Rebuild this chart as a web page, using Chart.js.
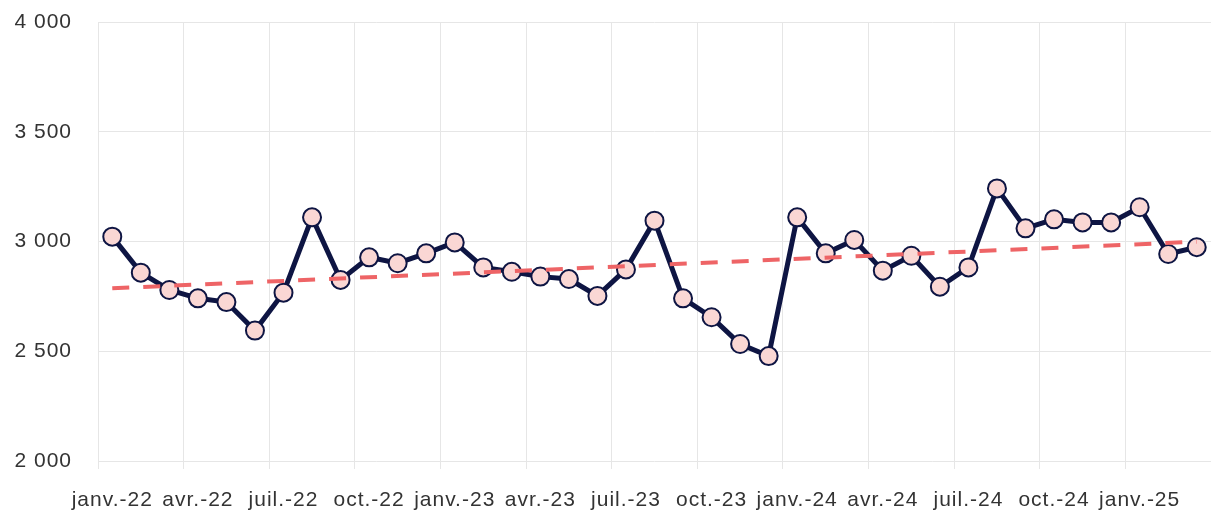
<!DOCTYPE html>
<html>
<head>
<meta charset="utf-8">
<script src="https://cdn.jsdelivr.net/npm/chart.js@4/dist/chart.umd.min.js"></script>
<style>
  html, body { margin: 0; padding: 0; background: #fff; overflow: hidden; }
  #wrap { width: 1211px; height: 511px; }
</style>
</head>
<body>
<div id="wrap"><canvas id="chart"></canvas></div>
<script>
// monthly labels, Jan 2022 - Mar 2025
const months = [
  'janv.-22', 'févr.-22', 'mars-22', 'avr.-22', 'mai-22', 'juin-22', 'juil.-22', 'août-22', 'sept.-22', 'oct.-22', 'nov.-22', 'déc.-22',
  'janv.-23', 'févr.-23', 'mars-23', 'avr.-23', 'mai-23', 'juin-23', 'juil.-23', 'août-23', 'sept.-23', 'oct.-23', 'nov.-23', 'déc.-23',
  'janv.-24', 'févr.-24', 'mars-24', 'avr.-24', 'mai-24', 'juin-24', 'juil.-24', 'août-24', 'sept.-24', 'oct.-24', 'nov.-24', 'déc.-24',
  'janv.-25', 'févr.-25', 'mars-25'
];
const values = [
  3022, 2858, 2779, 2741, 2724, 2594, 2767, 3110, 2825, 2928, 2901, 2946,
  2996, 2882, 2862, 2840, 2829, 2752, 2873, 3095, 2741, 2655, 2533, 2478,
  3110, 2946, 3007, 2867, 2935, 2794, 2882, 3242, 3060, 3101, 3087, 3087,
  3156, 2943, 2974
];
// dashed trend, read at both ends
const trendStart = 2787;
const trendEnd = 2999;
const yTicks = [2000, 2500, 3000, 3500, 4000];

const spacing = {
  id: 'spacing',
  beforeUpdate(chart) { chart.ctx.letterSpacing = '1px'; },
  beforeDraw(chart) { chart.ctx.letterSpacing = '1px'; }
};

new Chart(document.getElementById('chart'), {
  type: 'line',
  data: {
    labels: months,
    datasets: [{
      label: 'Tendance',
      data: [{ x: months[0], y: trendStart }, { x: months[months.length - 1], y: trendEnd }],
      borderColor: '#ee6466',
      borderWidth: 4,
      borderDash: [17, 14],
      pointRadius: 0,
      fill: false
    }, {
      label: 'Valeurs',
      data: values,
      borderColor: '#0e1543',
      borderWidth: 5,
      pointRadius: 9,
      pointBorderWidth: 2,
      pointBackgroundColor: '#fad7d4',
      pointBorderColor: '#0e1543',
      tension: 0,
      fill: false
    }]
  },
  options: {
    responsive: true,
    maintainAspectRatio: false,
    animation: false,
    layout: { autoPadding: false, padding: { top: 22, right: 0, left: 0, bottom: 0 } },
    plugins: { legend: { display: false }, tooltip: { enabled: false } },
    scales: {
      x: {
        offset: true,
        grid: {
          offset: true,
          color: (c) => (c.index % 3 === 0 ? '#e6e6e6' : 'rgba(0,0,0,0)'),
          tickLength: 8
        },
        border: { display: false },
        ticks: {
          autoSkip: false,
          maxRotation: 0,
          padding: 19,
          color: '#333',
          font: { family: 'Liberation Sans', size: 21 },
          callback: function (v, i) { return i % 3 === 0 ? months[i] : ''; }
        },
        afterFit: (s) => { s.height = 50; s.paddingLeft = 0; s.paddingRight = 0; }
      },
      y: {
        min: 2000,
        max: 4000,
        afterBuildTicks: (s) => { s.ticks = yTicks.map(v => ({ value: v })); },
        grid: { color: '#e6e6e6', drawTicks: false },
        border: { display: false },
        ticks: {
          padding: 26,
          color: '#333',
          font: { family: 'Liberation Sans', size: 21 },
          callback: (v) => String(v).replace(/\B(?=(\d{3})+(?!\d))/g, ' ')
        },
        afterFit: (s) => { s.width = 98; s.paddingTop = 0; s.paddingBottom = 0; }
      }
    }
  },
  plugins: [spacing]
});
</script>
</body>
</html>
